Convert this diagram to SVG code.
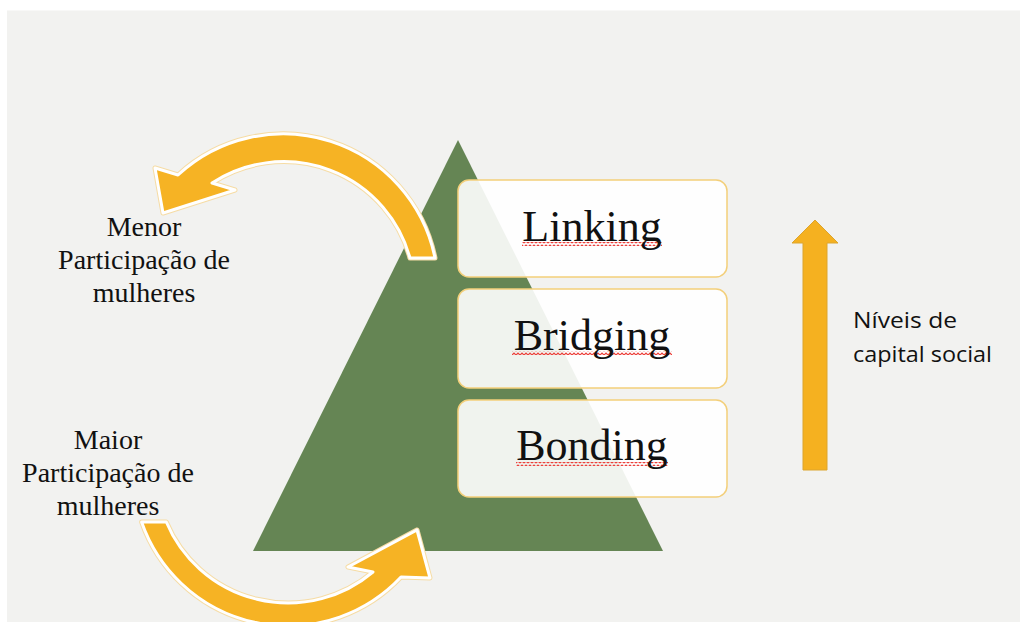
<svg xmlns="http://www.w3.org/2000/svg" width="1020" height="622" viewBox="0 0 1020 622">
  <defs>
    <style>
      .serif { font-family: "Liberation Serif", "Times New Roman", serif; fill: #111; }
      .label { font-size: 28px; text-anchor: middle; }
      .level { font-size: 44px; text-anchor: middle; }
      .sans { font-family: "Open Sans", "Liberation Sans", sans-serif; font-size: 22.5px; fill: #111; }
      .box { fill: #ffffff; fill-opacity: 0.9; stroke: #f3cf7a; stroke-width: 1.5; }
      .curve-halo { fill: none; stroke: #f6dca4; stroke-width: 5; stroke-linejoin: round; }
      .curve { fill: #f6b324; stroke: #ffffff; stroke-width: 3; stroke-linejoin: round; }
      .squiggle { fill: url(#wave); }
    </style>
    <!-- red wavy underline -->
    <pattern id="wave" patternUnits="userSpaceOnUse" width="4" height="4">
      <path d="M0,3 L2,1 L4,3" fill="none" stroke="#ec3b36" stroke-width="1.2"/>
    </pattern>
  </defs>

  <!-- page -->
  <rect x="0" y="0" width="1020" height="622" fill="#ffffff"/>
  <rect x="7" y="10.5" width="1013" height="611.5" fill="#f2f2f0"/>

  <!-- pyramid -->
  <g id="pyramid">
    <polygon points="458,140 253,551 663,551" fill="#658554"/>
  </g>

  <!-- levels -->
  <g id="linking">
    <rect class="box" x="458" y="180" width="269" height="97" rx="11"/>
    <rect class="squiggle" x="522" y="242" width="140" height="4"/>
    <text class="serif level" x="592" y="241">Linking</text>
  </g>
  <g id="bridging">
    <rect class="box" x="458" y="289" width="269" height="99" rx="11"/>
    <rect class="squiggle" x="512" y="351" width="160" height="4"/>
    <text class="serif level" x="592" y="350">Bridging</text>
  </g>
  <g id="bonding">
    <rect class="box" x="458" y="400" width="269" height="97" rx="11"/>
    <rect class="squiggle" x="516" y="462" width="152" height="4"/>
    <text class="serif level" x="592" y="460">Bonding</text>
  </g>

  <!-- labels -->
  <g id="menor">
    <text class="serif label" x="144" y="236">Menor</text>
    <text class="serif label" x="144" y="269">Participação de</text>
    <text class="serif label" x="144" y="302">mulheres</text>
  </g>
  <g id="maior">
    <text class="serif label" x="108" y="449">Maior</text>
    <text class="serif label" x="108" y="482">Participação de</text>
    <text class="serif label" x="108" y="515">mulheres</text>
  </g>
  <g id="niveis">
    <text class="sans" x="853" y="328" textLength="104" lengthAdjust="spacingAndGlyphs">Níveis de</text>
    <text class="sans" x="853" y="362" textLength="139" lengthAdjust="spacingAndGlyphs">capital social</text>
  </g>

  <!-- connectors -->
  <g id="connectors">
    <!-- upper curved arrow: from the pyramid out to the left -->
    <path class="curve-halo" d="M435,258 A155,155 0 0 0 178,175 L155,168 L163,213 L235,190 L212,183 A131,131 0 0 1 410,258 Z"/>
    <path class="curve" d="M435,258 A155,155 0 0 0 178,175 L155,168 L163,213 L235,190 L212,183 A131,131 0 0 1 410,258 Z"/>
    <!-- lower curved arrow: from the label into the pyramid base -->
    <path class="curve-halo" d="M141.6,522 A155,155 0 0 0 401,577 L430,578 L417,530 L348,567 L373,572 A132,132 0 0 1 166.3,522 Z"/>
    <path class="curve" d="M141.6,522 A155,155 0 0 0 401,577 L430,578 L417,530 L348,567 L373,572 A132,132 0 0 1 166.3,522 Z"/>
    <!-- vertical scale arrow -->
    <polygon points="803,470 803,243 792,243 815,220 838,243 827,243 827,470" fill="#f5b120" stroke="#dca52e" stroke-width="1"/>
  </g>
</svg>
